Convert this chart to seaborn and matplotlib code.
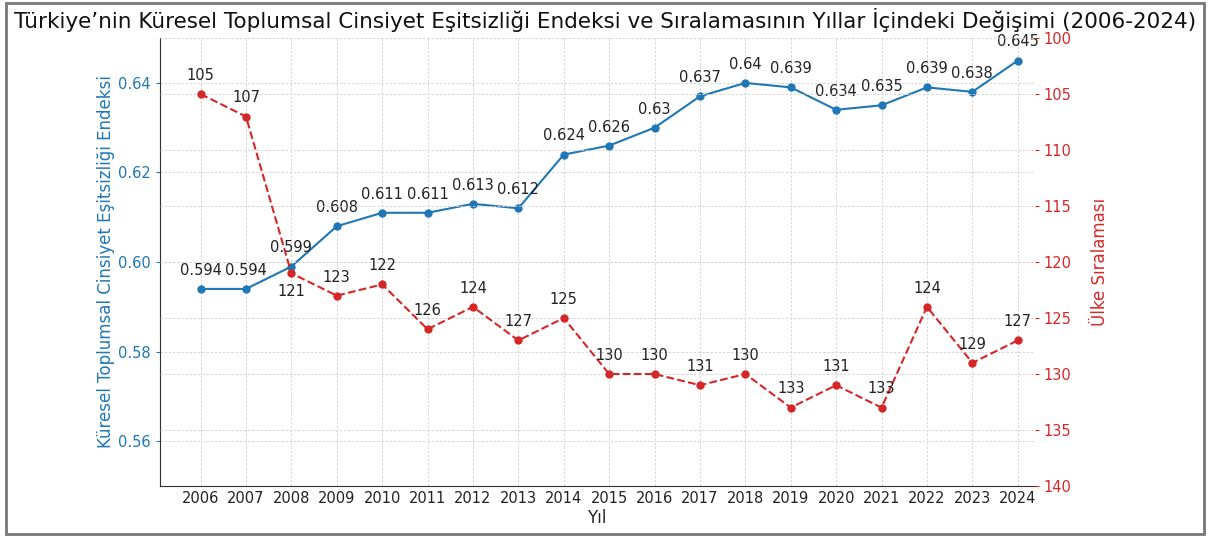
import matplotlib.pyplot as plt
import matplotlib.patches as mpatches
import pandas as pd
import seaborn as sns

years = list(range(2006, 2025))
index_vals = [0.594, 0.594, 0.599, 0.608, 0.611, 0.611, 0.613, 0.612, 0.624, 0.626,
              0.63, 0.637, 0.64, 0.639, 0.634, 0.635, 0.639, 0.638, 0.645]
ranks = [105, 107, 121, 123, 122, 126, 124, 127, 125, 130,
         130, 131, 130, 133, 131, 133, 124, 129, 127]
index_labels = ["0.594", "0.594", "0.599", "0.608", "0.611", "0.611", "0.613", "0.612", "0.624", "0.626",
                "0.63", "0.637", "0.64", "0.639", "0.634", "0.635", "0.639", "0.638", "0.645"]

df = pd.DataFrame({"Yıl": years, "Endeks": index_vals, "Sıra": ranks})

sns.set_style("white")
plt.rcParams["font.family"] = ["DejaVu Sans"]

blue = "#1f77b4"
red = "#d62728"

fig = plt.figure(figsize=(12.1, 5.37), dpi=100)
ax1 = fig.add_axes([0.132, 0.095, 0.723, 0.834])
ax2 = ax1.twinx()

sns.lineplot(data=df, x="Yıl", y="Endeks", ax=ax1, color=blue, marker="o",
             markersize=6, markeredgewidth=0, linewidth=1.5)
sns.lineplot(data=df, x="Yıl", y="Sıra", ax=ax2, color=red, marker="o",
             markersize=6, markeredgewidth=0, linewidth=1.5, linestyle="--")

# value labels
for x, y, s in zip(years, index_vals, index_labels):
    ax1.annotate(s, (x, y), xytext=(0, 8), textcoords="offset points",
                 ha="center", va="bottom", fontsize=10.5, color="#222222")
for x, y in zip(years, ranks):
    off, va = (0, 8), "bottom"
    if x == 2008:
        off, va = (0, -8), "top"
    ax2.annotate(str(y), (x, y), xytext=off, textcoords="offset points",
                 ha="center", va=va, fontsize=10.5, color="#222222")

ax1.set_xlim(2005.1, 2024.37)
ax1.set_ylim(0.55, 0.65)
ax1.set_yticks([0.56, 0.58, 0.60, 0.62, 0.64])
ax1.set_yticklabels(["0.56", "0.58", "0.60", "0.62", "0.64"])
ax2.set_ylim(140, 100)
ax2.set_yticks([100, 105, 110, 115, 120, 125, 130, 135, 140])
ax1.set_xticks(years)
ax1.set_xticklabels([str(y) for y in years])

ax1.set_xlabel("Yıl", fontsize=12, color="#222222", labelpad=2)
ax1.set_ylabel("Küresel Toplumsal Cinsiyet Eşitsizliği Endeksi", fontsize=12, color=blue, labelpad=2)
ax2.set_ylabel("Ülke Sıralaması", fontsize=12, color=red, labelpad=14)

ax1.tick_params(axis="y", colors=blue, labelsize=10.5, length=3, direction="out")
ax1.tick_params(axis="x", colors="#222222", labelsize=10.5, length=4, direction="in")
ax2.tick_params(axis="y", colors=red, labelsize=10.5, length=3, direction="out")

grid_kw = dict(linestyle=(0, (3, 2)), color="#d0d0d0", linewidth=0.6)
ax1.grid(True, **grid_kw)
ax2.grid(True, axis="y", **grid_kw)
ax1.set_axisbelow(True)

for ax in (ax1, ax2):
    ax.spines["top"].set_visible(False)
    ax.spines["right"].set_visible(False)
ax2.spines["left"].set_visible(False)
ax2.spines["bottom"].set_visible(False)
ax1.spines["left"].set_color("#333333")
ax1.spines["bottom"].set_color("#333333")

fig.text(0.5, 0.962, "Türkiye’nin Küresel Toplumsal Cinsiyet Eşitsizliği Endeksi ve Sıralamasının Yıllar İçindeki Değişimi (2006-2024)",
         ha="center", va="center", fontsize=15.5, color="#111111")

# figure border
fig.patches.append(mpatches.Rectangle((0.005, 0.006), 0.99, 0.989, transform=fig.transFigure,
                                      fill=False, edgecolor="#777777", linewidth=2))

fig.savefig("out.png", dpi=100)
